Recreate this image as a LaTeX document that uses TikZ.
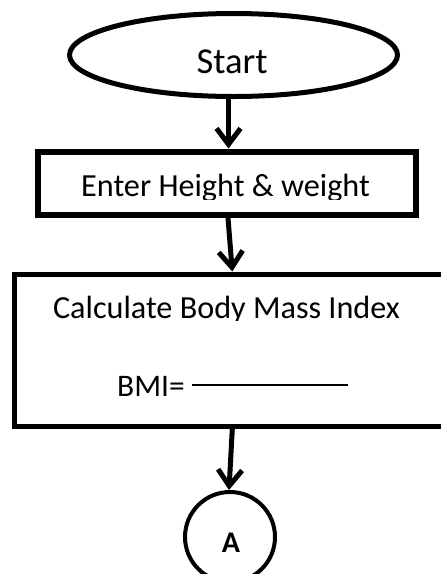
\documentclass[tikz,border=0pt]{standalone}
\usepackage{fontspec}
\setmainfont{Carlito}
\usepackage{tikz}
\usetikzlibrary{positioning,arrows.meta}
\usetikzlibrary{shapes.geometric}
\tikzset{
  terminal/.style={draw,ellipse,line width=5pt,inner sep=0pt,minimum width=328pt,minimum height=83pt},
  process/.style={draw,rectangle,inner sep=0pt},
  connector/.style={draw,circle,line width=4pt,inner sep=0pt,minimum size=90pt},
  flow/.style={line width=5pt,-{Straight Barb[length=16pt,width=24pt]}},
  txt/.style={inner sep=0pt,anchor=base,font=\fontsize{32.2}{38}\selectfont}
}

\begin{document}
\begin{tikzpicture}[x=1pt,y=-1pt]
\useasboundingbox (0,0) rectangle (441,574);
\clip (0,0) rectangle (441,574);
\node[terminal] (start) at (233.5,55) {};
\node[txt,font=\fontsize{36.5}{42}\selectfont] (starttxt) at (232,73.5) {Start};
%
\node[process,line width=6pt,minimum width=378pt,minimum height=63.5pt] (enter) at (227,183.3) {};
\begin{scope}
\clip (40,160) rectangle (414,199.5);
\node[txt] (entertxt) at (225.5,196.8) {Enter Height \& weight};
\end{scope}
%
\node[process,line width=5pt,minimum width=455.5pt,minimum height=152.3pt] (calc) at (242.3,350.2) {};
\begin{scope}
\clip (20,285) rectangle (435,320.5);
\node[txt] (calctxt) at (226.5,318.4) {Calculate Body Mass Index};
\end{scope}
\node[txt,anchor=base west,font=\fontsize{31.4}{36}\selectfont] (bmi) at (117,396.7) {BMI=};
\coordinate (fracl) at (192,385);
\coordinate (fracr) at (348,385);
\draw[line width=2pt] (fracl) -- (fracr);
%
\node[connector] (a) at (230,537) {};
\node[txt,font=\bfseries\fontsize{30}{36}\selectfont] (atxt) at (231,552.5) {A};
%
\draw[flow] ([xshift=-5pt]start.south) -- ([xshift=1.5pt]enter.north);
\draw[flow] ([xshift=1pt]enter.south) -- ([xshift=-10pt]calc.north);
\draw[flow] ([xshift=-10pt]calc.south) -- ([xshift=-1pt]a.north);
\end{tikzpicture}
\end{document}
